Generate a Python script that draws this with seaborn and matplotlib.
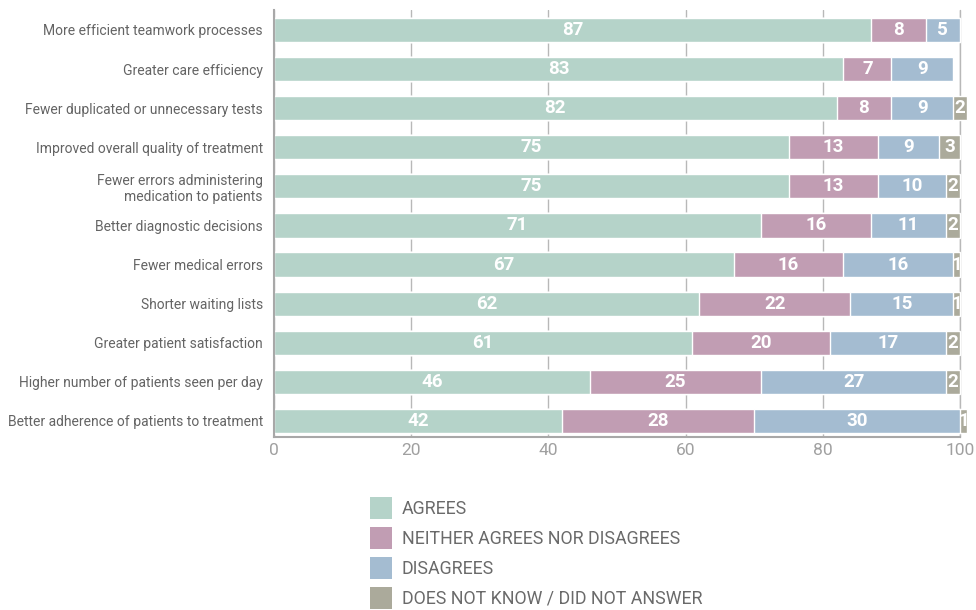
import matplotlib
matplotlib.use("Agg")
import matplotlib.pyplot as plt
from matplotlib.patches import Patch
import numpy as np
import pandas as pd
import seaborn as sns

# Survey results (% of respondents)
categories = [
    "More efficient teamwork processes",
    "Greater care efficiency",
    "Fewer duplicated or unnecessary tests",
    "Improved overall quality of treatment",
    "Fewer errors administering\nmedication to patients",
    "Better diagnostic decisions",
    "Fewer medical errors",
    "Shorter waiting lists",
    "Greater patient satisfaction",
    "Higher number of patients seen per day",
    "Better adherence of patients to treatment",
]
agrees = [87, 83, 82, 75, 75, 71, 67, 62, 61, 46, 42]
neither = [8, 7, 8, 13, 13, 16, 16, 22, 20, 25, 28]
disagrees = [5, 9, 9, 9, 10, 11, 16, 15, 17, 27, 30]
no_answer = [0, 0, 2, 3, 2, 2, 1, 1, 2, 2, 1]

series_names = ["AGREES", "NEITHER AGREES NOR DISAGREES", "DISAGREES",
                "DOES NOT KNOW / DID NOT ANSWER"]
colors = ["#b5d3c9", "#c19db3", "#a4bcd1", "#abaa9b"]
x_ticks = [0, 20, 40, 60, 80, 100]

series = [agrees, neither, disagrees, no_answer]
df = pd.DataFrame({"category": categories})
for name, vals in zip(series_names, series):
    df[name] = vals
cum = df[series_names].cumsum(axis=1)

sns.set_theme(style="white")
plt.rcParams["font.family"] = ["Roboto", "DejaVu Sans"]

fig = plt.figure(figsize=(9.76, 6.10), dpi=100)
ax = fig.add_axes([274 / 976, 1 - 437 / 610, (960 - 274) / 976, (437 - 10) / 610])

# Stack by drawing cumulative totals from the outermost layer inward
for i in range(len(series_names) - 1, -1, -1):
    sns.barplot(x=cum[series_names[i]], y=df["category"], orient="h",
                color=colors[i], width=0.62, saturation=1, ax=ax,
                zorder=2, clip_on=False)

# Value labels centred on each segment
starts = cum[series_names].shift(1, axis=1).fillna(0)
for r in range(len(categories)):
    for name in series_names:
        v = df.loc[r, name]
        if v <= 0:
            continue
        xc = starts.loc[r, name] + v / 2
        ax.text(xc, r, f"{v}", ha="center", va="center", color="white",
                fontsize=13.5, fontweight="semibold", zorder=3)

ax.set_xlim(0, 100)
ax.set_ylim(10.41, -0.51)
ax.set_xticks(x_ticks)
ax.set_xticklabels([str(t) for t in x_ticks])
ax.set_xlabel("")
ax.set_ylabel("")
ax.xaxis.grid(True, color="#b8b8b8", linewidth=1, zorder=0)
ax.axvline(100, color="#b8b8b8", linewidth=1, zorder=0, clip_on=False)
ax.set_axisbelow(True)
ax.tick_params(axis="x", length=0, pad=4, labelsize=12.5, labelcolor="#a0a0a0")
ax.tick_params(axis="y", length=0, pad=8, labelsize=10, labelcolor="#646464")
for s in ["top", "right"]:
    ax.spines[s].set_visible(False)
for s in ["left", "bottom"]:
    ax.spines[s].set_color("#a8a8a8")
    ax.spines[s].set_linewidth(1.5)

handles = [Patch(facecolor=c, edgecolor="none") for c in colors]
fig.legend(handles, series_names, loc="upper left",
           bbox_to_anchor=(370 / 976, 1 - 497 / 610), frameon=False,
           fontsize=12.8, labelcolor="#6a6a6a", handlelength=1.24,
           handleheight=1.525, handletextpad=0.55, labelspacing=0.45,
           borderpad=0, borderaxespad=0)

fig.savefig("out.png", dpi=100)
